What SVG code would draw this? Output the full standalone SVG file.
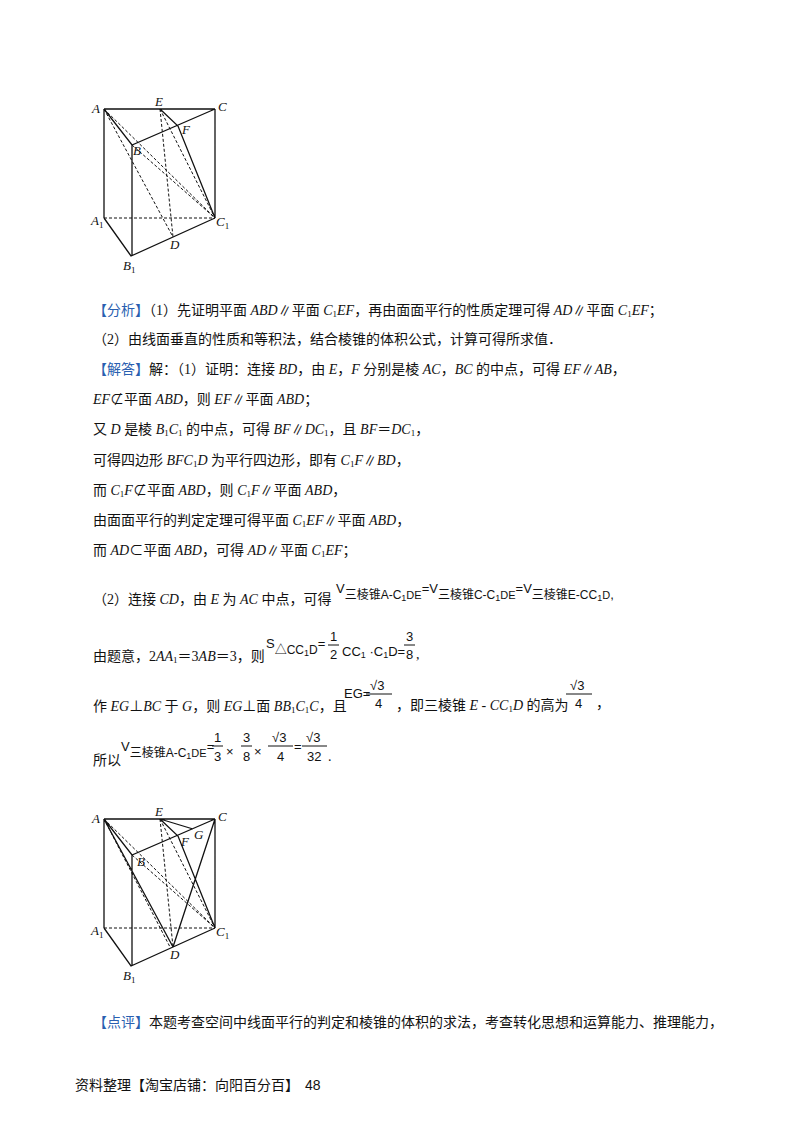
<svg xmlns="http://www.w3.org/2000/svg" width="800" height="1132" viewBox="0 0 800 1132">
<style>
text{font-family:"Liberation Serif","Noto Sans CJK SC",serif;font-size:14px;fill:#111}
.i{font-style:italic}
.b{fill:#2a5fb0}
.m{font-family:"Liberation Sans","Noto Sans CJK SC",sans-serif;font-size:13px}
.s{stroke:#111;stroke-width:1.3;fill:none}
.d{stroke:#111;stroke-width:1;fill:none;stroke-dasharray:3 2}
.lb{font-family:"Liberation Serif",serif;font-style:italic;font-size:13px}
</style>
<rect width="800" height="1132" fill="#fff"/>
<g id="fig1">
<path class="s" d="M104 109H215M104 109V218M215 109V218M104 109L132 145L215 109M132 145V256M104 218L131 256L215 218M160 109L178 126L215 218"/>
<path class="d" d="M104 218H215M104 109L215 218M104 109L173 237M160 109L173 237M160 109L215 218M132 145L215 218"/>
<text class="lb" x="92" y="113">A</text><text class="lb" x="155" y="106">E</text><text class="lb" x="218" y="111">C</text>
<text class="lb" x="133" y="155">B</text><text class="lb" x="182" y="134">F</text>
<text class="lb" x="91" y="225">A<tspan font-size="9" font-style="normal" dy="3">1</tspan></text>
<text class="lb" x="216" y="226">C<tspan font-size="9" font-style="normal" dy="3">1</tspan></text>
<text class="lb" x="170" y="249">D</text>
<text class="lb" x="123" y="270">B<tspan font-size="9" font-style="normal" dy="3">1</tspan></text>
</g>
<g id="fig2">
<path class="s" d="M104 819H215M104 819V928M215 819V928M104 819L132 855L215 819M132 855V966M104 928L131 966L215 928M160 819L178 836L215 928M160 819L193 829M215 819L173 947M104 819L173 947"/>
<path class="d" d="M104 928H215M104 819L215 928M104 819L170 947M160 819L173 947M160 819L215 928M132 855L215 928"/>
<text class="lb" x="92" y="823">A</text><text class="lb" x="155" y="816">E</text><text class="lb" x="218" y="821">C</text>
<text class="lb" x="137" y="866">B</text><text class="lb" x="181" y="846">F</text><text class="lb" x="194" y="839">G</text>
<text class="lb" x="91" y="935">A<tspan font-size="9" font-style="normal" dy="3">1</tspan></text>
<text class="lb" x="216" y="936">C<tspan font-size="9" font-style="normal" dy="3">1</tspan></text>
<text class="lb" x="170" y="959">D</text>
<text class="lb" x="123" y="980">B<tspan font-size="9" font-style="normal" dy="3">1</tspan></text>
</g>
<g id="text">
<text x="93" y="315"><tspan class="b">【分析】</tspan>（1）先证明平面 <tspan class="i">ABD</tspan>∥平面 <tspan class="i">C</tspan><tspan font-size="9" dy="2">1</tspan><tspan class="i" dy="-2">EF</tspan>，再由面面平行的性质定理可得 <tspan class="i">AD</tspan>∥平面 <tspan class="i">C</tspan><tspan font-size="9" dy="2">1</tspan><tspan class="i" dy="-2">EF</tspan>；</text>
<text x="93" y="344">（2）由线面垂直的性质和等积法，结合棱锥的体积公式，计算可得所求值．</text>
<text x="93" y="374"><tspan class="b">【解答】</tspan>解：（1）证明：连接 <tspan class="i">BD</tspan>，由 <tspan class="i">E</tspan>，<tspan class="i">F</tspan> 分别是棱 <tspan class="i">AC</tspan>，<tspan class="i">BC</tspan> 的中点，可得 <tspan class="i">EF</tspan>∥<tspan class="i">AB</tspan>，</text>
<text x="93" y="404"><tspan class="i">EF</tspan>⊄平面 <tspan class="i">ABD</tspan>，则 <tspan class="i">EF</tspan>∥平面 <tspan class="i">ABD</tspan>；</text>
<text x="93" y="434">又 <tspan class="i">D</tspan> 是棱 <tspan class="i">B</tspan><tspan font-size="9" dy="2">1</tspan><tspan class="i" dy="-2">C</tspan><tspan font-size="9" dy="2">1</tspan><tspan dy="-2"> 的中点，可得 </tspan><tspan class="i">BF</tspan>∥<tspan class="i">DC</tspan><tspan font-size="9" dy="2">1</tspan><tspan dy="-2">，且 </tspan><tspan class="i">BF</tspan>＝<tspan class="i">DC</tspan><tspan font-size="9" dy="2">1</tspan><tspan dy="-2">，</tspan></text>
<text x="93" y="465">可得四边形 <tspan class="i">BFC</tspan><tspan font-size="9" dy="2">1</tspan><tspan class="i" dy="-2">D</tspan> 为平行四边形，即有 <tspan class="i">C</tspan><tspan font-size="9" dy="2">1</tspan><tspan class="i" dy="-2">F</tspan>∥<tspan class="i">BD</tspan>，</text>
<text x="93" y="495">而 <tspan class="i">C</tspan><tspan font-size="9" dy="2">1</tspan><tspan class="i" dy="-2">F</tspan>⊄平面 <tspan class="i">ABD</tspan>，则 <tspan class="i">C</tspan><tspan font-size="9" dy="2">1</tspan><tspan class="i" dy="-2">F</tspan>∥平面 <tspan class="i">ABD</tspan>，</text>
<text x="93" y="525">由面面平行的判定定理可得平面 <tspan class="i">C</tspan><tspan font-size="9" dy="2">1</tspan><tspan class="i" dy="-2">EF</tspan>∥平面 <tspan class="i">ABD</tspan>，</text>
<text x="93" y="555">而 <tspan class="i">AD</tspan>⊂平面 <tspan class="i">ABD</tspan>，可得 <tspan class="i">AD</tspan>∥平面 <tspan class="i">C</tspan><tspan font-size="9" dy="2">1</tspan><tspan class="i" dy="-2">EF</tspan>；</text>
<text x="93" y="604">（2）连接 <tspan class="i">CD</tspan>，由 <tspan class="i">E</tspan> 为 <tspan class="i">AC</tspan> 中点，可得</text>
<text class="m" x="336" y="593">V<tspan font-size="12" dy="6">三棱锥A-C</tspan><tspan font-size="9" dy="2">1</tspan><tspan font-size="11" dy="-2">DE</tspan><tspan dy="-6">=V</tspan><tspan font-size="12" dy="6">三棱锥C-C</tspan><tspan font-size="9" dy="2">1</tspan><tspan font-size="11" dy="-2">DE</tspan><tspan dy="-6">=V</tspan><tspan font-size="12" dy="6">三棱锥E-CC</tspan><tspan font-size="9" dy="2">1</tspan><tspan font-size="11" dy="-2">D</tspan><tspan dy="0">,</tspan></text>
<text x="93" y="661">由题意，2<tspan class="i">AA</tspan><tspan font-size="9" dy="2">1</tspan><tspan dy="-2">＝3</tspan><tspan class="i">AB</tspan>＝3，则</text>
<text class="m" x="266" y="648">S<tspan font-size="12" dy="6">△CC</tspan><tspan font-size="9" dy="2">1</tspan><tspan font-size="12" dy="-2">D</tspan><tspan dy="-6">=</tspan></text>
<text class="m" x="330" y="641">1</text><line x1="328" y1="645" x2="339" y2="645" stroke="#111"/><text class="m" x="330" y="659">2</text>
<text class="m" x="342" y="656">CC<tspan font-size="9" dy="2">1</tspan><tspan dy="-2"> ·C</tspan><tspan font-size="9" dy="2">1</tspan><tspan dy="-2">D=</tspan></text>
<text class="m" x="406" y="641">3</text><line x1="404" y1="645" x2="415" y2="645" stroke="#111"/><text class="m" x="406" y="659">8</text><text x="416" y="659">,</text>
<text x="93" y="711">作 <tspan class="i">EG</tspan>⊥<tspan class="i">BC</tspan> 于 <tspan class="i">G</tspan>，则 <tspan class="i">EG</tspan>⊥面 <tspan class="i">BB</tspan><tspan font-size="9" dy="2">1</tspan><tspan class="i" dy="-2">C</tspan><tspan font-size="9" dy="2">1</tspan><tspan class="i" dy="-2">C</tspan>，且</text>
<text class="m" x="344" y="698" font-size="11">EG=</text>
<text class="m" x="370" y="690">√3</text><line x1="366" y1="694" x2="392" y2="694" stroke="#111"/><text class="m" x="375" y="708">4</text>
<text x="396" y="710">，即三棱锥 <tspan class="i">E</tspan> - <tspan class="i">CC</tspan><tspan font-size="9" dy="2">1</tspan><tspan class="i" dy="-2">D</tspan> 的高为</text>
<text class="m" x="570" y="690">√3</text><line x1="566" y1="694" x2="592" y2="694" stroke="#111"/><text class="m" x="575" y="708">4</text><text x="596" y="708">，</text>
<text x="93" y="765">所以</text>
<text class="m" x="121" y="751">V<tspan font-size="12" dy="6">三棱锥A-C</tspan><tspan font-size="9" dy="2">1</tspan><tspan font-size="11" dy="-2">DE</tspan><tspan dy="-6">=</tspan></text>
<text class="m" x="214" y="742">1</text><line x1="212" y1="746" x2="223" y2="746" stroke="#111"/><text class="m" x="214" y="761">3</text>
<text class="m" x="226" y="756">×</text>
<text class="m" x="243" y="742">3</text><line x1="241" y1="746" x2="252" y2="746" stroke="#111"/><text class="m" x="243" y="761">8</text>
<text class="m" x="254" y="756">×</text>
<text class="m" x="272" y="742">√3</text><line x1="268" y1="746" x2="293" y2="746" stroke="#111"/><text class="m" x="277" y="761">4</text>
<text class="m" x="294" y="751">=</text>
<text class="m" x="306" y="742">√3</text><line x1="302" y1="746" x2="327" y2="746" stroke="#111"/><text class="m" x="307" y="761">32</text><text x="328" y="761">.</text>
<text x="93" y="1027"><tspan class="b">【点评】</tspan>本题考查空间中线面平行的判定和棱锥的体积的求法，考查转化思想和运算能力、推理能力，</text>
<text x="75" y="1090" font-size="13">资料整理【淘宝店铺：向阳百分百】</text>
<text x="305" y="1090" font-size="12" style="font-family:'Liberation Sans',sans-serif">48</text>
</g>
</svg>
